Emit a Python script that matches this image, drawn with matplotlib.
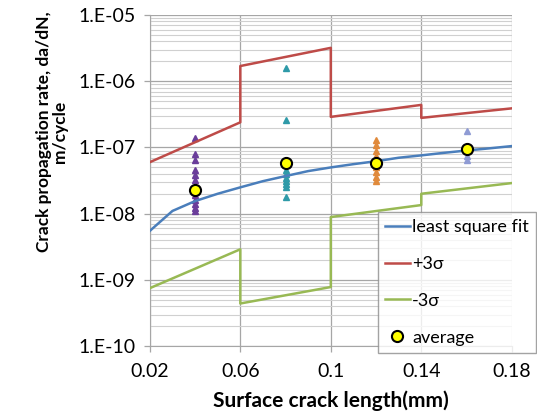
import numpy as np
import matplotlib
matplotlib.use("Agg")
import matplotlib.pyplot as plt
from matplotlib.ticker import FixedLocator, LogLocator, NullFormatter

plt.rcParams['font.family'] = ['Lato', 'DejaVu Sans']

# least square fit
fit_x = [0.02, 0.03, 0.04, 0.05, 0.06, 0.07, 0.08, 0.09, 0.10,
         0.11, 0.12, 0.13, 0.14, 0.15, 0.16, 0.17, 0.18]
fit_y = [5.5e-9, 1.1e-8, 1.55e-8, 2.0e-8, 2.5e-8, 3.1e-8, 3.7e-8, 4.4e-8, 5.0e-8,
         5.6e-8, 6.2e-8, 7.0e-8, 7.6e-8, 8.3e-8, 9.0e-8, 9.7e-8, 1.05e-7]

# +3 sigma / -3 sigma bands (step at group boundaries)
band_x = [0.02, 0.06, 0.06, 0.10, 0.10, 0.14, 0.14, 0.18]
upper_y = [6.0e-8, 2.4e-7, 1.7e-6, 3.2e-6, 2.9e-7, 4.4e-7, 2.8e-7, 3.9e-7]
lower_y = [7.5e-10, 2.9e-9, 4.4e-10, 7.8e-10, 8.9e-9, 1.35e-8, 2.0e-8, 2.9e-8]

# measured data (triangles) per crack length
data_04 = [1.4e-7, 8.0e-8, 6.5e-8, 4.6e-8, 3.8e-8, 3.2e-8, 2.6e-8, 2.2e-8,
           1.9e-8, 1.6e-8, 1.4e-8, 1.2e-8, 1.1e-8]
data_08 = [1.6e-6, 2.6e-7, 4.5e-8, 4.0e-8, 3.5e-8, 3.1e-8, 2.8e-8, 2.5e-8, 1.8e-8]
data_12 = [1.3e-7, 1.1e-7, 9.0e-8, 7.5e-8, 5.0e-8, 4.2e-8, 3.6e-8, 3.1e-8]
data_16 = [1.75e-7, 7.5e-8, 6.5e-8]

avg_x = [0.04, 0.08, 0.12, 0.16]
avg_y = [2.3e-8, 5.8e-8, 5.8e-8, 9.6e-8]

xticks = [0.02, 0.06, 0.1, 0.14, 0.18]
xtick_labels = ['0.02', '0.06', '0.1', '0.14', '0.18']

fig = plt.figure(figsize=(5.37, 4.19), dpi=100)
ax = fig.add_axes([0.279, 0.174, 0.674, 0.790])

ax.set_yscale('log')
ax.set_xlim(0.02, 0.18)
ax.set_ylim(1e-10, 1e-5)

ax.xaxis.set_major_locator(FixedLocator(xticks))
ax.set_xticklabels(xtick_labels)
ax.yaxis.set_minor_locator(LogLocator(base=10, subs=np.arange(2, 10), numticks=20))
ax.yaxis.set_minor_formatter(NullFormatter())
ax.set_yticks([1e-10, 1e-9, 1e-8, 1e-7, 1e-6, 1e-5])
ax.set_yticklabels(['1.E-10', '1.E-09', '1.E-08', '1.E-07', '1.E-06', '1.E-05'])

ax.grid(True, which='major', color='#a6a6a6', linewidth=0.9)
ax.grid(True, which='minor', axis='y', color='#d0d0d0', linewidth=0.8)
ax.set_axisbelow(True)
ax.tick_params(which='minor', length=0)
ax.tick_params(which='major', length=4, width=0.9, color='#a6a6a6')
ax.tick_params(axis='y', labelsize=14, pad=6)
ax.tick_params(axis='x', labelsize=14, pad=8)
for s in ['top', 'right']:
    ax.spines[s].set_visible(False)
for s in ['left', 'bottom']:
    ax.spines[s].set_color('#a6a6a6')

# scatter data
groups = [(0.04, data_04, '#6a3d9a'), (0.08, data_08, '#2e9aa8'),
          (0.12, data_12, '#e08a3c'), (0.16, data_16, '#8f9bd4')]
for gx, gy, c in groups:
    ax.plot([gx] * len(gy), gy, linestyle='none', marker='^', markersize=5,
            color=c, zorder=3)

l1, = ax.plot(fit_x, fit_y, color='#4a7ebb', linewidth=1.8, label='least square fit', zorder=4)
l2, = ax.plot(band_x, upper_y, color='#be4b48', linewidth=1.8, label='+3σ', zorder=4)
l3, = ax.plot(band_x, lower_y, color='#98b954', linewidth=1.8, label='-3σ', zorder=4)
l4, = ax.plot(avg_x, avg_y, linestyle='none', marker='o', markersize=8,
              markerfacecolor='#ffff00', markeredgecolor='black', markeredgewidth=1.5,
              label='average', zorder=5)

ax.set_xlabel('Surface crack length(mm)', fontsize=15, fontweight='bold', labelpad=8)
ax.set_ylabel('Crack propagation rate, da/dN,\nm/cycle', fontsize=12.5,
              fontweight='bold', linespacing=1.0)
ax.yaxis.set_label_coords(-0.225, 0.647)

leg = fig.legend(handles=[l1, l2, l3, l4], loc='upper left',
                 bbox_to_anchor=(378 / 537, 1 - 212 / 419), fontsize=13,
                 frameon=True, fancybox=False, edgecolor='#8c8c8c',
                 handlelength=1.35, handletextpad=0.15, labelspacing=1.15,
                 borderpad=0.4, borderaxespad=0)
leg.get_frame().set_linewidth(1.0)

fig.savefig('out.png', dpi=100)
